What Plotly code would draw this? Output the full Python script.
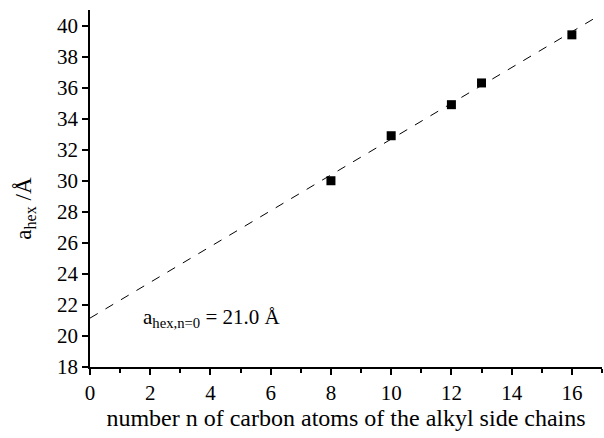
import plotly.graph_objects as go

n_carbon = [8, 10, 12, 13, 16]
a_hex = [30.0, 32.9, 34.9, 36.3, 39.4]
fit_x = [0, 16.7]
fit_intercept = 21.15
fit_slope = 1.153
fit_y = [fit_intercept + fit_slope * x for x in fit_x]

font = "Liberation Serif"

fig = go.Figure()
fig.add_trace(go.Scatter(x=fit_x, y=fit_y, mode="lines",
                         line=dict(color="black", width=1, dash="dash"),
                         showlegend=False, hoverinfo="skip"))
fig.add_trace(go.Scatter(x=n_carbon, y=a_hex, mode="markers",
                         marker=dict(symbol="square", size=9, color="black"),
                         showlegend=False))

fig.add_annotation(x=4.05, y=21.15, xref="x", yref="y",
                   text="a<sub>hex,n=0</sub> = 21.0 Å", showarrow=False,
                   font=dict(family=font, size=21, color="black"))

fig.add_annotation(x=0, xref="paper", xshift=-65, xanchor="center",
                   y=28.2, yref="y", yanchor="middle",
                   text="a<sub>hex</sub> /Å", textangle=-90, showarrow=False,
                   font=dict(family=font, size=23, color="black"))

fig.update_layout(
    width=604, height=438,
    margin=dict(l=90, r=2, t=10, b=71),
    plot_bgcolor="white", paper_bgcolor="white",
    font=dict(family=font, color="black"),
    xaxis=dict(range=[0, 17], tickmode="linear", tick0=0, dtick=2,
               ticks="outside", ticklen=6, tickwidth=1.5, tickcolor="black",
               minor=dict(dtick=1, ticks="outside", ticklen=4, tickcolor="black", tickwidth=1.5),
               showline=True, linecolor="black", linewidth=1.5,
               showgrid=False, zeroline=False,
               tickfont=dict(family=font, size=21),
               title=dict(text="number n of carbon atoms of the alkyl side chains",
                          font=dict(family=font, size=24), standoff=3)),
    yaxis=dict(range=[18, 41], tickmode="linear", tick0=18, dtick=2,
               ticks="outside", ticklen=6, tickwidth=1.5, tickcolor="black",
               showline=True, linecolor="black", linewidth=1.5,
               showgrid=False, zeroline=False,
               tickfont=dict(family=font, size=21)),
)

fig.write_html("out.html", post_script="document.body.style.margin='0';",
               config={"displayModeBar": False})
